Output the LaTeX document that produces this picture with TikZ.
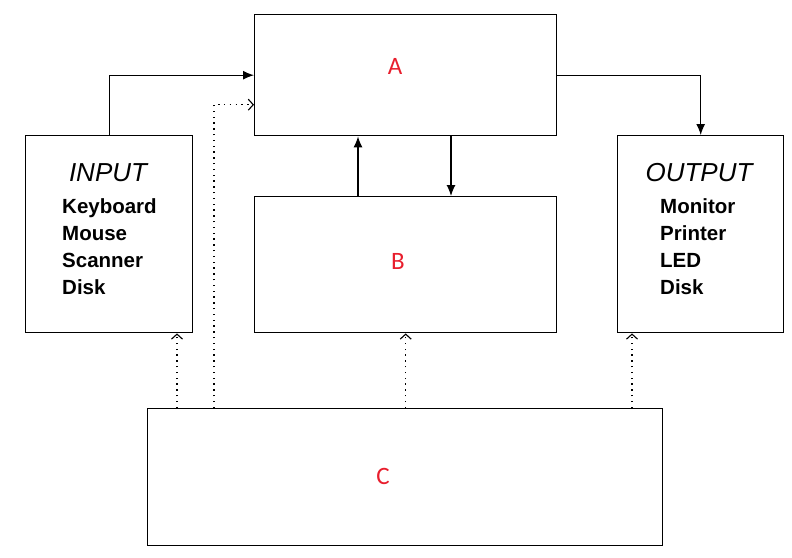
\documentclass[tikz,border=0pt]{standalone}
\usepackage{fontspec}
\setmainfont{Liberation Sans}
\newfontfamily\labelfont{Carlito}
\usepackage{xcolor}
\usetikzlibrary{arrows.meta}

\definecolor{labelred}{RGB}{232,30,45}

\begin{document}
\begin{tikzpicture}[x=1pt, y=-1pt,
		unitbox/.style={draw, line width=1.4pt, inner sep=0pt, anchor=north west},
		unitname/.style={font=\labelfont\fontsize{25}{25}\selectfont, text=labelred},
		devtitle/.style={font=\itshape\fontsize{26}{26}\selectfont, anchor=base, inner sep=0pt},
		devlist/.style={font=\bfseries\fontsize{20.5}{27}\selectfont, align=left, anchor=north west, inner sep=0pt},
		flow/.style={line width=1.2pt, -{Latex[length=11pt,width=9pt]}},
		ctrl/.style={line width=1.3pt, dash pattern=on 1.4pt off 4.4pt, -{Straight Barb[length=5pt,width=11pt,line width=1.1pt]}}]
		\useasboundingbox (0,0) rectangle (792,557);
		\node[unitbox, minimum width=302pt, minimum height=121pt] (a) at (254,14) {};
		\node[unitbox, minimum width=302pt, minimum height=136pt] (b) at (254,196) {};
		\node[unitbox, minimum width=167pt, minimum height=197pt] (input) at (25,135) {};
		\node[unitbox, minimum width=166pt, minimum height=197pt] (output) at (617,135) {};
		\node[unitbox, minimum width=515pt, minimum height=137pt] (c) at (147,408) {};
		\node[unitname] (alabel) at (395,66) {A};
		\node[unitname] (blabel) at (398,261) {B};
		\node[unitname] (clabel) at (383,476) {C};
		\node[devtitle] (intitle) at (108,181) {INPUT};
		\node[devlist] (inlist) at (62,198) {Keyboard\\Mouse\\Scanner\\Disk};
		\node[devtitle] (outtitle) at (699,181) {OUTPUT};
		\node[devlist] (outlist) at (660,198) {Monitor\\Printer\\LED\\Disk};
		\draw[flow] (input.north) |- (a.west);
		\draw[flow] (a.east) -| (output.north);
		\draw[flow] ([xshift=104pt]b.north west) -- ([xshift=104pt]a.south west);
		\draw[flow] ([xshift=197pt]a.south west) -- ([xshift=197pt]b.north west);
		\draw[ctrl] ([xshift=30pt]c.north west) -- ([xshift=30pt]c.north west |- input.south);
		\draw[ctrl] ([xshift=67pt]c.north west) |- ([yshift=-29.5pt]a.west);
		\draw[ctrl] (c.north -| b.south) -- (b.south);
		\draw[ctrl] ([xshift=15pt]c.north -| output.south west) -- ([xshift=15pt]output.south west);
\end{tikzpicture}
\end{document}
